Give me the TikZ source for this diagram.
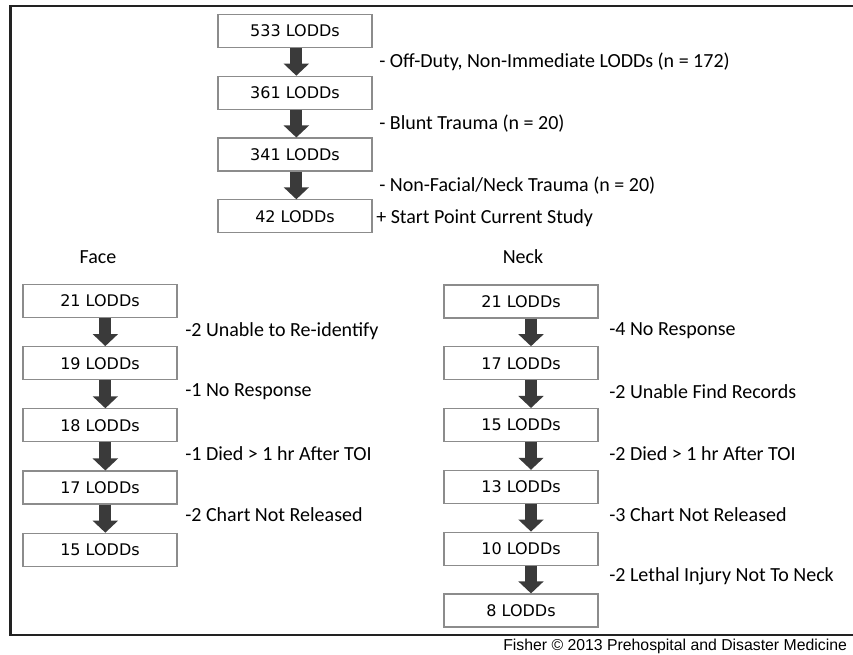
\documentclass[tikz,border=0pt]{standalone}
\usepackage{fontspec}
\setmainfont{Carlito}
\newfontfamily\boxfont{DejaVu Sans}
\newfontfamily\creditfont{Liberation Sans}
\usetikzlibrary{arrows.meta}
\definecolor{lodEdge}{HTML}{8C8C8C}
\definecolor{lodArrow}{HTML}{3A3A3A}
\definecolor{lodFrame}{HTML}{222222}
\tikzset{
  lodbox/.style={draw=lodEdge,line width=0.9pt,fill=white,minimum width=115.5pt,minimum height=24.75pt,inner sep=0pt,font=\boxfont\fontsize{12}{14}\selectfont},
  cutlabel/.style={anchor=west,inner sep=0pt,font=\fontsize{15}{18}\selectfont},
  blockarrow/.style={lodArrow,line width=9pt,-{Triangle[width=18.5pt,length=9pt]}}
}
\begin{document}
\begin{tikzpicture}[x=0.75pt,y=-0.75pt]
  \useasboundingbox (0,0) rectangle (853,655);
  % frame (its right side runs off the page)
  \draw[lodFrame,line width=1.8pt] (853,6) -- (10.5,6) -- (10.5,635) -- (853,635);
  % main stem
  \foreach \i/\n in {1/533,2/361,3/341,4/42}
    \node[lodbox] (t\i) at (295,{31+61.8*(\i-1)}) {\n\ LODDs};
  \foreach \a/\b in {t1/t2,t2/t3,t3/t4}
    \draw[blockarrow] ([xshift=1pt]\a.south) -- ([xshift=1pt]\b.north);
  \node[cutlabel] (c1) at (379,62) {- Off-Duty, Non-Immediate LODDs (n = 172)};
  \node[cutlabel] (c2) at (379,124) {- Blunt Trauma (n = 20)};
  \node[cutlabel] (c3) at (379,186) {- Non-Facial/Neck Trauma (n = 20)};
  \node[cutlabel] (c4) at (376,218) {+ Start Point Current Study};
  % face branch
  \node[font=\fontsize{15}{18}\selectfont] (face) at (98,257) {Face};
  \foreach \i/\n in {1/21,2/19,3/18,4/17,5/15}
    \node[lodbox] (f\i) at (100,{301+62.2*(\i-1)}) {\n\ LODDs};
  \foreach \a/\b in {f1/f2,f2/f3,f3/f4,f4/f5}
    \draw[blockarrow] ([xshift=4pt]\a.south) -- ([xshift=4pt]\b.north);
  \foreach \y/\lab in {331/-2 Unable to Re-identify,392/-1 No Response,454/-1 Died > 1 hr After TOI,515/-2 Chart Not Released}
    \node[cutlabel] at (185,\y) {\lab};
  % neck branch
  \node[font=\fontsize{15}{18}\selectfont] (neck) at (523,257) {Neck};
  \foreach \i/\n in {1/21,2/17,3/15,4/13,5/10,6/8}
    \node[lodbox] (n\i) at (521,{301.5+61.8*(\i-1)}) {\n\ LODDs};
  \foreach \a/\b in {n1/n2,n2/n3,n3/n4,n4/n5,n5/n6}
    \draw[blockarrow] ([xshift=7.5pt]\a.south) -- ([xshift=7.5pt]\b.north);
  \foreach \y/\lab in {331/-4 No Response,392/-2 Unable Find Records,454/-2 Died > 1 hr After TOI,515/-3 Chart Not Released,576/-2 Lethal Injury Not To Neck}
    \node[cutlabel] at (609,\y) {\lab};
  % credit line
  \node[anchor=west,inner sep=0pt,font=\creditfont\fontsize{11.85}{14}\selectfont] (credit) at (503,646) {Fisher © 2013 Prehospital and Disaster Medicine};
\end{tikzpicture}
\end{document}
